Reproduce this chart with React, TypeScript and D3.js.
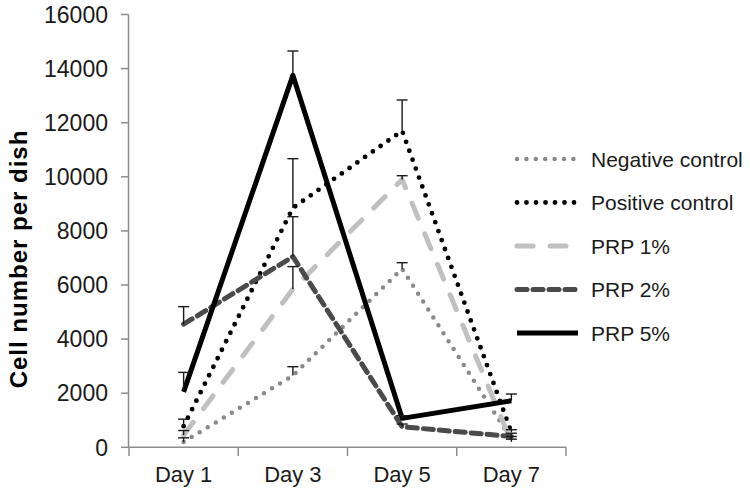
import React from "react";
import * as d3 from "d3";

const days = ["Day 1", "Day 3", "Day 5", "Day 7"];
const yTicks = [0, 2000, 4000, 6000, 8000, 10000, 12000, 14000, 16000];

const negValues = [200, 2650, 6600, 300];
const negErr = [150, 330, 225, 100];
const posValues = [780, 8850, 11700, 550];
const posErr = [260, 1820, 1140, 100];
const prp1Values = [450, 5850, 9900, 200];
const prp1Err = [170, 830, 140, 100];
const prp2Values = [4550, 7050, 760, 400];
const prp2Err = [650, 1475, 100, 120];
const prp5Values = [2050, 13750, 1070, 1720];
const prp5Err = [720, 900, 100, 250];

const seriesNames = ["Negative control", "Positive control", "PRP 1%", "PRP 2%", "PRP 5%"];

export default function App() {
  const width = 750;
  const height = 491;
  const x = d3.scaleBand<string>().domain(days).range([129, 566]);
  const y = d3.scaleLinear().domain([0, 16000]).range([447.3, 14.5]);
  const cx = (d: string) => (x(d) as number) + x.bandwidth() / 2;

  const series = [
    { name: seriesNames[0], values: negValues, err: negErr, color: "#8a8a8a", w: 4.5, dash: "0 9.4", cap: "round" },
    { name: seriesNames[1], values: posValues, err: posErr, color: "#000000", w: 4.8, dash: "0 9.5", cap: "round" },
    { name: seriesNames[2], values: prp1Values, err: prp1Err, color: "#c0c0c0", w: 5, dash: "16 17", cap: "round" },
    { name: seriesNames[3], values: prp2Values, err: prp2Err, color: "#4a4a4a", w: 5, dash: "10 6", cap: "round" },
    { name: seriesNames[4], values: prp5Values, err: prp5Err, color: "#000000", w: 5, dash: "", cap: "butt" },
  ];

  const line = d3
    .line<number>()
    .x((_, i) => cx(days[i]))
    .y((v) => y(v));

  const axisColor = "#8c8c8c";
  const font = "'Liberation Sans', Arial, sans-serif";
  const tickEdges = [...days.map((d) => x(d) as number), 566];

  return (
    <svg
      width={width}
      height={height}
      style={{ position: "absolute", left: 0, top: 0, background: "#fff" }}
      fontFamily={font}
    >
      <rect width={width} height={height} fill="#fff" />
      {/* y axis */}
      <line x1={128.5} x2={128.5} y1={y(16000)} y2={y(0)} stroke={axisColor} strokeWidth={1.5} />
      {yTicks.map((t) => (
        <g key={t}>
          <line x1={121} x2={128.5} y1={y(t)} y2={y(t)} stroke={axisColor} strokeWidth={1.5} />
          <text x={108} y={y(t)} dy="0.36em" textAnchor="end" fontSize={23} fill="#1a1a1a">
            {t}
          </text>
        </g>
      ))}
      {/* x axis */}
      <line x1={128.5} x2={566} y1={447.3} y2={447.3} stroke={axisColor} strokeWidth={1.5} />
      {tickEdges.map((e, i) => (
        <line key={i} x1={e} x2={e} y1={447.3} y2={456} stroke={axisColor} strokeWidth={1.5} />
      ))}
      {days.map((d) => (
        <text key={d} x={cx(d)} y={482} textAnchor="middle" fontSize={22} fill="#1a1a1a">
          {d}
        </text>
      ))}
      {/* y title */}
      <text
        transform={`translate(27, 259) rotate(-90)`}
        textAnchor="middle"
        fontSize={24}
        fontWeight="bold"
        letterSpacing={1}
        fill="#000"
      >
        Cell number per dish
      </text>
      {/* lines */}
      {series.map((s) => (
        <path
          key={s.name}
          d={line(s.values) || ""}
          fill="none"
          stroke={s.color}
          strokeWidth={s.w}
          strokeDasharray={s.dash || undefined}
          strokeLinecap={s.cap as any}
          strokeLinejoin="round"
        />
      ))}
      {/* error bars */}
      {series.map((s) =>
        s.values.map((v, i) => {
          const px = cx(days[i]);
          const top = y(v + s.err[i]);
          return (
            <g key={s.name + i}>
              <line x1={px} x2={px} y1={y(v)} y2={top} stroke="#1a1a1a" strokeWidth={1.4} />
              <line x1={px - 5.5} x2={px + 5.5} y1={top} y2={top} stroke="#1a1a1a" strokeWidth={1.4} />
            </g>
          );
        })
      )}
      {/* legend */}
      {series.map((s, i) => {
        const ly = 159 + i * 43.5;
        return (
          <g key={s.name}>
            <line
              x1={517}
              x2={578}
              y1={ly}
              y2={ly}
              stroke={s.color}
              strokeWidth={s.w}
              strokeDasharray={s.dash || undefined}
              strokeLinecap={s.cap as any}
            />
            <text x={591} y={ly} dy="0.36em" fontSize={21} fill="#1a1a1a">
              {s.name}
            </text>
          </g>
        );
      })}
    </svg>
  );
}
